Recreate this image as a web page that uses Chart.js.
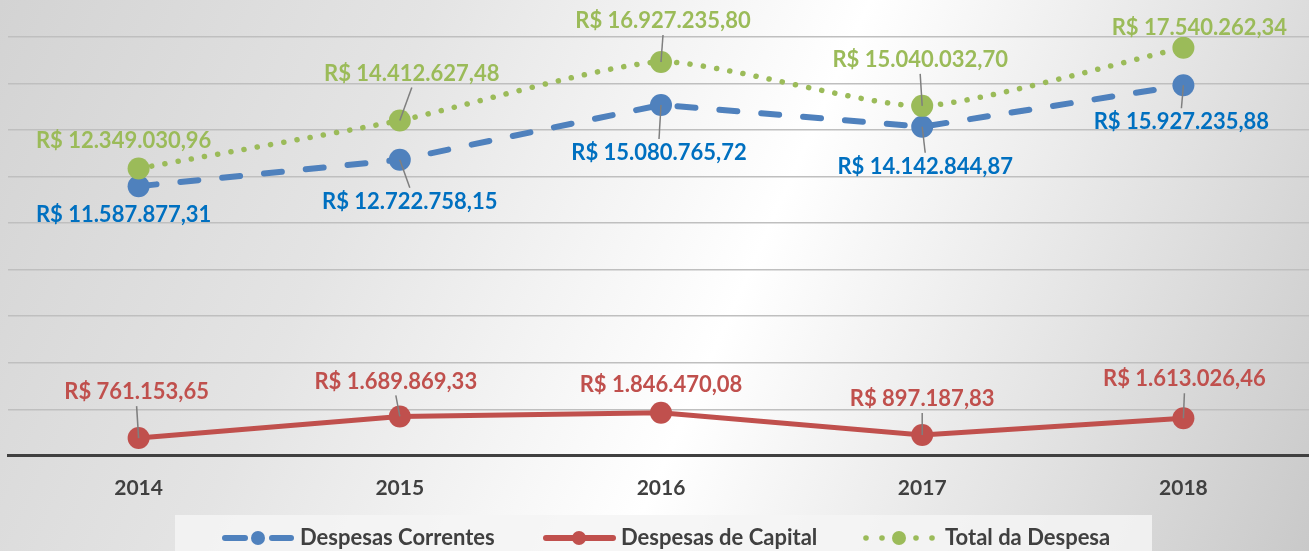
<!DOCTYPE html>
<html>
<head>
<meta charset="utf-8">
<script src="https://cdn.jsdelivr.net/npm/chart.js@4"></script>
<style>
  html, body { margin: 0; padding: 0; overflow: hidden; }
  body {
    width: 1309px; height: 551px;
    background: linear-gradient(114deg, #d3d3d3 0%, #e4e4e4 28%, #ffffff 56%, #e2e2e2 80%, #c9c9c9 100%);
  }
  #wrap { position: relative; width: 1328px; height: 551px; margin-left: -3px; }
</style>
</head>
<body>
<div id="wrap"><canvas id="despesasChart"></canvas></div>
<script>
const anos = ['2014', '2015', '2016', '2017', '2018'];
const despesasCorrentes = [11587877.31, 12722758.15, 15080765.72, 14142844.87, 15927235.88];
const despesasCapital = [761153.65, 1689869.33, 1846470.08, 897187.83, 1613026.46];
const totalDespesa = [12349030.96, 14412627.48, 16927235.80, 15040032.70, 17540262.34];

// where each data label sits relative to its point (dx, dy)
const offCorrentes = [[-15, 29], [10, 42], [-2, 48], [3, 40], [-2, 37]];
const offCapital = [[-2, -46], [-4, -35], [0, -28], [0, -36], [1, -39]];
const offTotal = [[-15, -28], [12, -47], [2, -41], [-2, -46], [16, -20]];

const FONT = 'Lato, "Open Sans", sans-serif';

// format number as R$ 1.234.567,89
function brl(v) {
    let parts = v.toFixed(2).split('.');
    let inteiro = parts[0].replace(/\B(?=(\d{3})+(?!\d))/g, '.');
    return 'R$ ' + inteiro + ',' + parts[1];
}

const labelPlugin = {
    id: 'rotulos',
    afterDatasetsDraw(chart) {
        const ctx = chart.ctx;
        ctx.save();
        ctx.font = 'bold 22px ' + FONT;
        ctx.textAlign = 'center';
        ctx.textBaseline = 'middle';
        chart.data.datasets.forEach((ds, i) => {
            const meta = chart.getDatasetMeta(i);
            meta.data.forEach((pt, j) => {
                const off = ds.labelOffsets[j];
                const lx = pt.x + off[0];
                const ly = pt.y + off[1];
                // leader line
                if (Math.abs(off[1]) - 14 > 16) {
                    const sy = ly + (off[1] < 0 ? 14 : -14);
                    ctx.strokeStyle = '#7f7f7f';
                    ctx.lineWidth = 1.5;
                    ctx.beginPath();
                    ctx.moveTo(lx, sy);
                    ctx.lineTo(pt.x, pt.y);
                    ctx.stroke();
                }
                ctx.fillStyle = ds.labelColor;
                ctx.fillText(brl(ds.data[j]), lx, ly);
            });
        });
        ctx.restore();
    }
};

const legendPlugin = {
    id: 'legenda',
    afterDraw(chart) {
        const ctx = chart.ctx;
        const y = 538;
        const dx = 3; // canvas is shifted 3px left
        ctx.save();
        ctx.translate(dx, 0);
        ctx.fillStyle = 'rgba(244,244,244,0.85)';
        ctx.fillRect(175, 515, 977, 40);
        ctx.lineCap = 'round';

        // Despesas Correntes
        ctx.strokeStyle = '#4f81bd';
        ctx.lineWidth = 6;
        ctx.beginPath(); ctx.moveTo(225, y); ctx.lineTo(245, y); ctx.stroke();
        ctx.beginPath(); ctx.moveTo(272, y); ctx.lineTo(291, y); ctx.stroke();
        ctx.fillStyle = '#4f81bd';
        ctx.beginPath(); ctx.arc(258, y, 7, 0, Math.PI * 2); ctx.fill();

        // Despesas de Capital
        ctx.strokeStyle = '#c0504d';
        ctx.beginPath(); ctx.moveTo(546, y); ctx.lineTo(613, y); ctx.stroke();
        ctx.fillStyle = '#c0504d';
        ctx.beginPath(); ctx.arc(579, y, 7, 0, Math.PI * 2); ctx.fill();

        // Total da Despesa
        ctx.fillStyle = '#9bbb59';
        [866, 882, 916, 932].forEach(x => {
            ctx.beginPath(); ctx.arc(x, y, 2.8, 0, Math.PI * 2); ctx.fill();
        });
        ctx.beginPath(); ctx.arc(899, y, 7, 0, Math.PI * 2); ctx.fill();

        ctx.fillStyle = '#404040';
        ctx.font = 'bold 22px ' + FONT;
        ctx.textBaseline = 'middle';
        ctx.textAlign = 'left';
        ctx.fillText('Despesas Correntes', 300, y);
        ctx.fillText('Despesas de Capital', 621, y);
        ctx.fillText('Total da Despesa', 945, y);
        ctx.restore();
    }
};

const ctx = document.getElementById('despesasChart').getContext('2d');
const despesasChart = new Chart(ctx, {
    type: 'line',
    data: {
        labels: anos,
        datasets: [{
            label: 'Despesas Correntes',
            data: despesasCorrentes,
            borderColor: '#4f81bd',
            backgroundColor: '#4f81bd',
            borderWidth: 6,
            borderDash: [18, 24],
            borderCapStyle: 'round',
            pointRadius: 11,
            pointBorderWidth: 0,
            tension: 0,
            labelColor: '#0070c0',
            labelOffsets: offCorrentes,
            order: 3
        }, {
            label: 'Despesas de Capital',
            data: despesasCapital,
            borderColor: '#c0504d',
            backgroundColor: '#c0504d',
            borderWidth: 5,
            borderCapStyle: 'round',
            pointRadius: 11,
            pointBorderWidth: 0,
            tension: 0,
            labelColor: '#c0504d',
            labelOffsets: offCapital,
            order: 2
        }, {
            label: 'Total da Despesa',
            data: totalDespesa,
            borderColor: '#9bbb59',
            backgroundColor: '#9bbb59',
            borderWidth: 5.5,
            borderDash: [0.1, 13.3],
            borderCapStyle: 'round',
            pointRadius: 11,
            pointBorderWidth: 0,
            tension: 0.2,
            labelColor: '#9bbb59',
            labelOffsets: offTotal,
            order: 1
        }]
    },
    options: {
        responsive: true,
        maintainAspectRatio: false,
        animation: false,
        layout: { padding: { left: 3, right: 4, top: 37, bottom: 30 } },
        plugins: {
            legend: { display: false },
            tooltip: { enabled: false }
        },
        scales: {
            x: {
                offset: true,
                grid: { display: false, drawTicks: false },
                border: { display: true, color: '#404040', width: 3 },
                ticks: {
                    color: '#404040',
                    padding: 20,
                    font: { family: FONT, size: 21, weight: 'bold' }
                }
            },
            y: {
                min: 0,
                max: 18000000,
                ticks: { display: false, stepSize: 2000000 },
                grid: { color: '#bfbfbf', lineWidth: 1.5, drawTicks: false },
                border: { display: false }
            }
        }
    },
    plugins: [labelPlugin, legendPlugin]
});
</script>
</body>
</html>
